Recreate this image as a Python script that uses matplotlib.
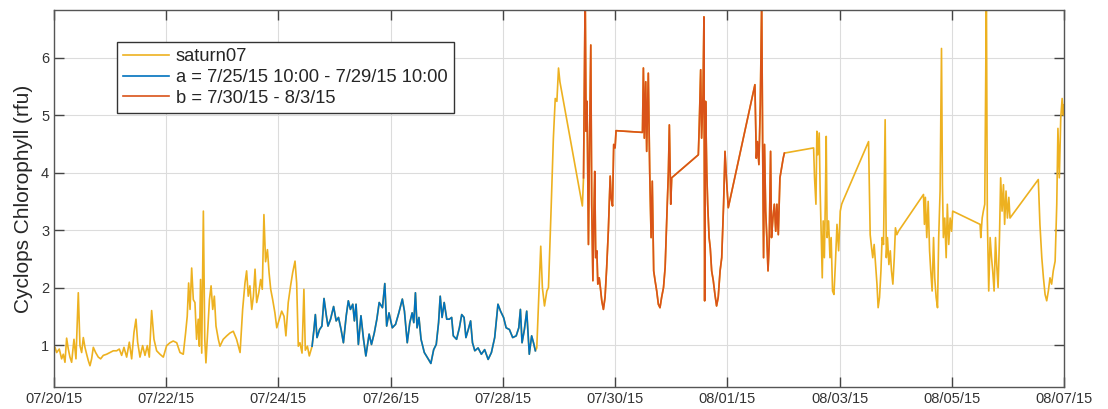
import numpy as np
import pandas as pd
import matplotlib
matplotlib.use("Agg")
import matplotlib.pyplot as plt
import matplotlib.dates as mdates

plt.rcParams['font.family'] = ['Liberation Sans', 'DejaVu Sans']

# hours since 07/20/15 00:00, values in rfu
sat_hours = [
    0.0, 0.43, 1.14, 2.28, 3.28, 3.99, 4.71, 5.42, 6.13, 6.84, 7.56, 8.56,
    9.41, 10.41, 11.12, 11.84, 12.55, 13.26, 13.98, 14.69, 15.40, 16.11,
    16.83, 17.82, 18.96, 19.96, 21.1, 22.53, 23.96, 25.38, 26.81, 27.95,
    28.95, 29.95, 31.09, 32.23, 33.23, 34.22, 35.08, 35.79, 36.79, 37.93,
    38.93, 39.93, 40.78, 41.78, 42.78, 43.92, 45.35, 46.77, 48.2, 49.62,
    51.0, 52.5, 53.9, 55.3, 56.3, 57.0, 57.6, 58.2, 58.9, 59.6, 60.3, 61.0,
    61.7, 62.2, 62.7, 63.2, 63.9, 64.5, 65.0, 65.7, 66.5, 67.2, 67.9, 68.6,
    69.3, 70.3, 71.0, 72.4, 73.9, 75.3, 76.7, 78.1, 79.6, 80.7, 81.7, 82.4,
    83.1, 83.8, 84.6, 85.3, 86.0, 86.7, 87.6, 88.4, 89.1, 89.8, 90.5, 91.3,
    92.0, 92.7, 93.5, 94.5, 95.3, 96.4, 97.4, 98.4, 99.2, 100.2, 101.2,
    102.1, 103.1, 103.8, 104.5, 105.2, 106.1, 106.9, 107.5, 108.4, 109.2,
    # between a and b
    206.5, 208.2, 208.9, 209.8, 210.8, 211.5, 212.6, 213.6, 214.4, 215.1,
    215.8, 216.4, 226.0,
    # after b
    324.9, 325.3, 325.9, 326.3, 326.7, 327.3, 327.7, 328.2, 328.6, 329.0,
    329.5, 329.9, 330.3, 330.7, 331.3, 331.9, 332.4, 333.0, 333.6, 334.2,
    334.9, 335.6, 336.3, 336.9, 337.4, 348.4, 349.1, 349.7, 350.2, 350.8,
    351.4, 352.0, 352.5, 353.1, 353.7, 354.2, 354.8, 355.5, 356.0, 356.5,
    357.1, 357.7, 358.2, 358.8, 359.4, 359.9, 360.5, 361.2, 371.9, 372.3,
    372.7, 373.3, 373.9, 374.5, 375.0, 375.6, 376.2, 376.7, 377.3, 377.9,
    378.4, 379.0, 379.6, 380.0, 380.4, 381.0, 381.6, 382.1, 382.7, 383.3,
    383.9, 384.4, 396.1, 396.4, 397.0, 397.5, 398.1, 398.8, 399.2, 399.8,
    400.4, 401.0, 401.5, 402.1, 402.7, 403.2, 403.8, 404.4, 404.9, 405.5,
    406.1, 406.6, 407.2, 407.8, 408.4, 408.9, 421.0, 421.7, 422.5, 423.2,
    423.9, 424.6, 425.3, 426.0, 426.7, 427.4, 428.2, 428.9, 429.4, 430.0,
    430.6, 431.2, 431.7, 432.0,
]
sat_vals = [
    0.98, 0.96, 0.87, 0.93, 0.76, 0.84, 0.70, 1.12, 0.93, 0.79, 0.70, 1.10,
    0.76, 1.91, 0.99, 0.87, 1.13, 0.96, 0.84, 0.73, 0.64, 0.76,
    0.96, 0.87, 0.79, 0.76, 0.82, 0.84, 0.87, 0.90, 0.90, 0.93,
    0.82, 0.96, 0.79, 1.05, 0.76, 1.22, 1.45, 1.05, 0.79, 0.99,
    0.82, 0.99, 0.79, 1.60, 1.10, 0.90, 0.84, 0.79, 0.99, 1.04,
    1.07, 1.04, 0.87, 0.84, 1.21, 1.50, 2.08, 1.62, 2.34, 1.79, 1.74, 1.10,
    1.45, 0.98, 2.14, 0.86, 3.33, 1.10, 0.69, 1.21, 1.79, 2.03, 1.62, 1.85,
    1.33, 1.10, 0.98, 1.10, 1.16, 1.21, 1.24, 1.10, 0.87, 1.62, 2.08, 2.29,
    1.85, 2.03, 1.62, 1.85, 2.32, 1.74, 1.91, 2.14, 1.97, 3.27, 2.45, 2.66,
    2.26, 1.97, 1.80, 1.56, 1.30, 1.45, 1.59, 1.50, 1.16, 1.74, 2.03,
    2.26, 2.46, 2.08, 0.98, 1.04, 0.86, 1.97, 0.91, 0.98, 0.81,
    0.95, 2.72, 2.00, 1.68, 1.94, 2.00, 3.33, 4.60, 5.29, 5.24,
    5.82, 5.58, 3.42,
    4.43, 3.91, 3.45, 4.72, 4.31, 4.69, 3.68, 2.87, 2.17, 3.16,
    2.52, 3.45, 4.63, 2.87, 3.16, 2.52, 2.87, 1.94, 1.88, 2.40,
    3.10, 2.64, 3.33, 3.45, 3.50, 4.54, 2.92, 2.69, 2.52, 2.75,
    2.40, 2.06, 1.65, 1.83, 2.29, 2.87, 2.75, 4.92, 2.52, 2.87,
    2.40, 2.64, 2.29, 2.06, 2.52, 3.04, 2.92, 2.98, 3.62, 3.10,
    3.57, 2.87, 3.50, 2.64, 2.29, 1.94, 2.87, 2.17, 1.83, 1.65,
    2.87, 3.68, 6.16, 3.79, 2.87, 3.21, 2.52, 3.45, 2.75, 3.21,
    2.98, 3.33, 3.10, 2.87, 3.21, 3.33, 3.45, 7.20, 3.21, 1.94,
    2.87, 2.52, 2.29, 1.94, 2.87, 2.40, 2.00, 2.87, 3.91, 3.33,
    3.79, 3.10, 3.68, 3.21, 3.57, 3.21, 3.88, 3.10, 2.52, 2.17,
    1.88, 1.77, 1.94, 2.17, 2.06, 2.29, 2.46, 3.45, 4.77, 3.91,
    4.95, 5.29, 5.00, 5.18,
]

# subset a
a_hours = [
    110.4, 111.2, 111.8, 112.5, 113.6, 114.6, 115.5, 116.5, 117.2, 118.3,
    119.6, 120.7, 121.7, 122.8, 123.8, 125.0, 125.9, 126.8, 127.8, 128.5,
    129.2, 130.2, 131.3, 132.4, 133.4, 134.8, 135.8, 137.0, 138.1, 139.1,
    140.5, 141.5, 142.3, 143.3, 144.7, 146.1, 147.5, 149.0, 149.9, 151.1,
    152.2, 153.2, 153.9, 154.6, 155.3, 156.1, 157.0, 158.4, 160.2, 161.2,
    162.4, 163.5, 164.5, 165.2, 166.0, 166.9, 168.0, 169.1, 170.1, 170.8,
    172.2, 173.4, 174.4, 175.4, 176.2, 177.2, 178.2, 179.0, 180.0, 181.4,
    182.8, 184.2, 185.7, 187.1, 188.5, 189.9, 191.0, 192.3, 193.4, 194.8,
    196.2, 197.7, 198.8, 199.5, 200.2, 201.2, 202.2, 203.3, 204.3, 205.1,
    205.9,
]
a_vals = [
    0.98, 1.27, 1.53, 1.13, 1.27, 1.33, 1.81, 1.51, 1.33, 1.45,
    1.67, 1.42, 1.48, 1.27, 1.04, 1.51, 1.77, 1.62, 1.71, 1.42,
    1.71, 1.01, 1.51, 1.10, 0.81, 1.19, 1.01, 1.21, 1.45, 1.74,
    1.65, 2.07, 1.33, 1.56, 1.30, 1.36, 1.56, 1.80, 1.59, 1.04,
    1.39, 1.56, 1.39, 1.91, 1.30, 1.48, 1.10, 0.87, 0.75, 0.68,
    0.92, 1.01, 1.39, 1.85, 1.48, 1.74, 1.45, 1.45, 1.48, 1.16,
    1.10, 1.30, 1.53, 1.48, 1.13, 1.27, 1.42, 1.04, 0.90, 0.95,
    0.84, 0.92, 0.75, 0.87, 1.13, 1.71, 1.59, 1.48, 1.30, 1.27,
    1.13, 1.16, 1.30, 1.62, 1.04, 1.27, 1.59, 0.84, 1.16, 1.04,
    0.90,
]

# subset b
b_hours = [
    226.5, 227.2, 227.6, 228.0, 228.6, 229.0, 229.6, 230.0, 230.5, 230.9,
    231.3, 231.7, 232.2, 232.6, 233.2, 233.7, 234.3, 235.0, 235.7, 236.4,
    237.1, 237.9, 238.3, 238.9, 239.4, 240.0, 240.4, 251.7, 252.1, 252.5,
    253.1, 253.5, 254.2, 254.8, 255.4, 255.9, 256.5, 257.1, 257.8, 258.5,
    259.2, 259.9, 260.7, 261.4, 262.2, 262.8, 263.2, 263.8, 264.2, 275.6,
    276.0, 276.6, 277.0, 277.6, 278.0, 278.3, 278.7, 279.2, 279.6, 280.2,
    280.7, 281.3, 282.0, 282.7, 283.4, 284.1, 284.9, 285.6, 286.4, 287.0,
    287.6, 288.4, 299.8, 300.4, 300.9, 301.5, 302.1, 302.7, 303.1, 303.5,
    303.9, 304.4, 304.9, 305.4, 305.9, 306.5, 306.9, 307.5, 308.1, 308.7,
    309.2, 309.8, 310.5, 311.2, 311.9, 312.4,
]
b_vals = [
    3.91, 7.20, 4.72, 5.24, 2.75, 4.31, 6.22, 3.45, 2.12, 3.21,
    4.02, 2.52, 2.64, 2.06, 2.17, 2.00, 1.77, 1.62, 1.83, 2.35,
    2.98, 3.94, 3.56, 3.42, 4.49, 4.43, 4.73, 4.70, 5.82, 4.60,
    5.58, 4.37, 5.73, 4.02, 2.87, 3.85, 2.29, 2.12, 1.94, 1.71,
    1.65, 1.83, 2.00, 2.35, 3.33, 4.02, 4.83, 3.45, 3.91, 4.31,
    4.83, 5.79, 4.60, 5.35, 6.71, 1.77, 5.24, 4.02, 3.45, 2.87,
    2.69, 2.29, 2.12, 1.88, 1.68, 1.83, 2.29, 2.52, 3.45, 4.37,
    3.91, 3.39, 5.53, 4.25, 4.54, 4.14, 5.18, 7.00, 4.49, 2.52,
    4.49, 3.33, 2.87, 2.29, 2.75, 4.37, 2.87, 3.21, 3.45, 2.98,
    3.45, 2.92, 3.91, 4.08, 4.25, 4.34,
]

labels = ['saturn07', 'a = 7/25/15 10:00 - 7/29/15 10:00', 'b = 7/30/15 - 8/3/15']
start = pd.Timestamp('2015-07-20')


def to_time(hours):
    return start + pd.to_timedelta(np.asarray(hours), unit='h')


# full record = its own points plus the two subsets
full = pd.Series(sat_vals + a_vals + b_vals, index=to_time(sat_hours + a_hours + b_hours)).sort_index()

fig = plt.figure(figsize=(11.08, 4.09), dpi=100)
ax = fig.add_axes([0.0487, 0.0538, 0.9116, 0.9218])

ax.plot(full.index, full.values, color='#EDB120', lw=1.2, label=labels[0])
ax.plot(to_time(a_hours), a_vals, color='#0072BD', lw=1.2, label=labels[1])
ax.plot(to_time(b_hours), b_vals, color='#D95319', lw=1.2, label=labels[2])

ax.set_xlim(start, pd.Timestamp('2015-08-07'))
ax.set_ylim(0.27, 6.83)
ax.set_yticks([1, 2, 3, 4, 5, 6])
ax.set_xticks(pd.date_range('2015-07-20', '2015-08-07', freq='2D'))
ax.xaxis.set_major_formatter(mdates.DateFormatter('%m/%d/%y'))

ax.grid(True, color='#dcdcdc', lw=0.8)
ax.set_axisbelow(True)
ax.tick_params(direction='in', length=7, width=1, top=True, right=True,
               colors='#444444', labelcolor='#333333', labelsize=10.5)
for s in ax.spines.values():
    s.set_color('#555555')
    s.set_linewidth(1.0)

ax.set_ylabel('Cyclops Chlorophyll (rfu)', fontsize=15, color='#262626', labelpad=6)

leg = ax.legend(loc='upper left', bbox_to_anchor=(0.0624, 0.915), borderaxespad=0,
                fontsize=13.2, frameon=True, fancybox=False, framealpha=1,
                edgecolor='#333333', handlelength=2.5, handletextpad=0.35,
                labelspacing=0.2, borderpad=0.35)
leg.get_frame().set_linewidth(1.0)
for t in leg.get_texts():
    t.set_color('#262626')

fig.savefig('out.png', dpi=100)
